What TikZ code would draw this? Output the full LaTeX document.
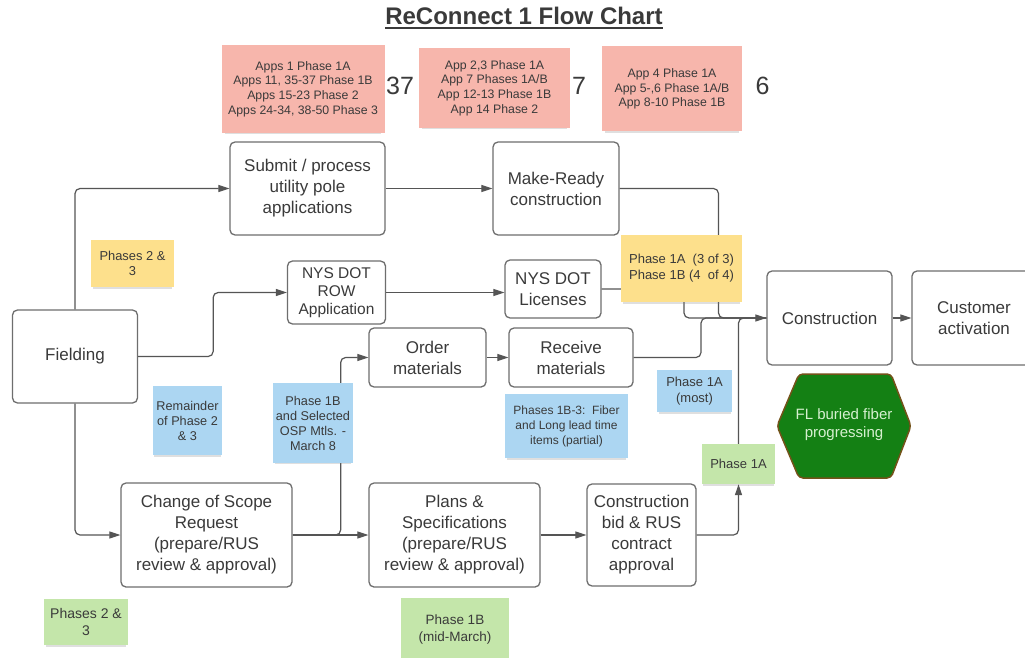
\documentclass[tikz,border=0pt]{standalone}
\usepackage{fontspec}
\setmainfont{Liberation Sans}
\usetikzlibrary{arrows.meta,shadows}

\definecolor{pinknote}{RGB}{247,182,172}
\definecolor{yellownote}{RGB}{253,224,140}
\definecolor{bluenote}{RGB}{172,214,242}
\definecolor{greennote}{RGB}{196,230,170}
\definecolor{hexgreen}{RGB}{20,128,20}
\definecolor{hexrim}{RGB}{115,82,25}
\definecolor{hextext}{RGB}{214,240,208}
\definecolor{boxline}{RGB}{110,110,110}
\definecolor{wire}{RGB}{85,85,85}
\definecolor{ink}{RGB}{58,58,58}

\tikzset{
  procbox/.style={draw=boxline,line width=1.3pt,rounded corners=5pt,fill=white,
    align=center,text=ink,inner sep=1pt,font={\fontsize{17}{21}\selectfont}},
  sticky/.style={inner sep=1pt,align=center,text=ink,
    drop shadow={shadow xshift=0pt,shadow yshift=-3pt,shadow scale=0.96,opacity=0.25}},
  flow/.style={draw=wire,line width=1.2pt,rounded corners=5pt},
  flowarrow/.style={-{Triangle[length=11pt,width=7pt]}}
}

\begin{document}
\begin{tikzpicture}[x=1pt,y=-1pt]
\clip (0,0) rectangle (1025,658);
\fill[white] (0,0) rectangle (1025,658);

% title
\node[inner sep=0,anchor=base,text=ink,font={\fontsize{24}{28}\selectfont\bfseries}] (title) at (524,25) {ReConnect 1 Flow Chart};
\draw[ink,line width=2pt] ([yshift=-3pt]title.base west) -- ([yshift=-3pt]title.base east);

% process boxes
\node[procbox,minimum width=155pt,minimum height=93pt] (submit) at (307.5,188.5) {Submit / process\\utility pole\\applications};
\node[procbox,minimum width=126pt,minimum height=93pt] (mkready) at (556,188.5) {Make-Ready\\construction};
\node[procbox,minimum width=98pt,minimum height=63pt,inner sep=0pt,font={\fontsize{15.5}{18}\selectfont}] (row) at (336.5,292.5) {NYS DOT\\ROW\\Application};
\node[procbox,minimum width=96pt,minimum height=58pt] (lic) at (553,289) {NYS DOT\\Licenses};
\node[procbox,minimum width=125pt,minimum height=93pt] (field) at (75,356.5) {Fielding};
\node[procbox,minimum width=117pt,minimum height=59pt] (order) at (427.5,357.5) {Order\\materials};
\node[procbox,minimum width=124pt,minimum height=59pt] (receive) at (571,357.5) {Receive\\materials};
\node[procbox,minimum width=125pt,minimum height=94pt] (constr) at (829.5,318) {Construction};
\node[procbox,minimum width=124pt,minimum height=94pt] (cust) at (974,318) {Customer\\activation};
\node[procbox,minimum width=171pt,minimum height=104pt] (scope) at (206.5,535) {Change of Scope\\Request\\(prepare/RUS\\review \& approval)};
\node[procbox,minimum width=171pt,minimum height=104pt] (plans) at (454.5,535) {Plans \&\\Specifications\\(prepare/RUS\\review \& approval)};
\node[procbox,minimum width=109pt,minimum height=102pt] (bid) at (641.5,535) {Construction\\bid \& RUS\\contract\\approval};

\coordinate (jmr) at (718.5,318);
\coordinate (jlic) at (684,318);
\coordinate (jrcv) at (701,318);

% connectors
\draw[flow,flowarrow] (field.north) |- (submit.west);
\draw[flow,flowarrow] (submit) -- (mkready);
\draw[flow] (lic.east) -| (jlic) -- (constr.west);
\draw[flow] (receive.east) -| (jrcv) -- (constr.west);
\draw[flow,flowarrow] (mkready.east) -| (jmr) -- (constr.west);
\draw[flow,flowarrow] (field.east) -- ++(75,0) |- (row.west);
\draw[flow,flowarrow] (row.east) -- (lic.west |- row.east);
\draw[flow,flowarrow] (field.south) |- (scope.west);
\draw[flow,flowarrow] (scope) -- (plans);
\draw[flow,flowarrow] (scope.east) -- ++(48,0) |- (order.west);
\draw[flow,flowarrow] (order) -- (receive);
\draw[flow,flowarrow] (plans) -- (bid);
\draw[flow,flowarrow] (constr) -- (cust);

% application notes
\node[sticky,fill=pinknote,minimum width=163pt,minimum height=88pt,font={\fontsize{12.3}{14.7}\selectfont}] (pkone) at (303,89) {Apps 1 Phase 1A\\Apps 11, 35-37 Phase 1B\\Apps 15-23 Phase 2\\Apps 24-34, 38-50 Phase 3};
\node[sticky,fill=pinknote,minimum width=151pt,minimum height=80pt,font={\fontsize{12.3}{14.7}\selectfont}] (pktwo) at (494.5,88) {App 2,3 Phase 1A\\App 7 Phases 1A/B\\App 12-13 Phase 1B\\App 14 Phase 2};
\node[sticky,fill=pinknote,minimum width=140pt,minimum height=85pt,font={\fontsize{12.3}{14.7}\selectfont}] (pkthree) at (672,89) {App 4 Phase 1A\\App 5-,6 Phase 1A/B\\App 8-10 Phase 1B};
\node[text=ink,font={\fontsize{25}{28}\selectfont}] (cntone) at (400,86) {37};
\node[text=ink,font={\fontsize{25}{28}\selectfont}] (cnttwo) at (579,86) {7};
\node[text=ink,font={\fontsize{25}{28}\selectfont}] (cntthree) at (762.5,86) {6};

% phase notes
\node[sticky,fill=yellownote,minimum width=83pt,minimum height=47pt,font={\fontsize{12.9}{15.5}\selectfont}] (ylwa) at (132.5,263.5) {Phases 2 \&\\3};
\node[sticky,fill=yellownote,minimum width=121pt,minimum height=67pt,font={\fontsize{13}{16}\selectfont}] (ylwb) at (681.5,268.5) {Phase 1A\ \ (3 of 3)\\Phase 1B (4\ \ of 4)};
\node[sticky,fill=bluenote,minimum width=69pt,minimum height=69pt,font={\fontsize{12.7}{15}\selectfont}] (blrem) at (187.5,420.5) {Remainder\\of Phase 2\\\& 3};
\node[sticky,fill=bluenote,minimum width=80pt,minimum height=80pt,font={\fontsize{12.7}{15}\selectfont}] (blosp) at (313,423) {Phase 1B\\and Selected\\OSP Mtls. -\\March 8};
\node[sticky,fill=bluenote,minimum width=123pt,minimum height=64pt,font={\fontsize{12}{15}\selectfont}] (blfib) at (566.5,426) {Phases 1B-3:\ \ Fiber\\and Long lead time\\items (partial)};
\node[sticky,fill=bluenote,minimum width=75pt,minimum height=42pt,font={\fontsize{13}{16}\selectfont}] (blmost) at (694.5,391) {Phase 1A\\(most)};
\node[sticky,fill=greennote,minimum width=73pt,minimum height=40pt,font={\fontsize{13}{16}\selectfont}] (grnone) at (738.5,464) {Phase 1A};
\node[sticky,fill=greennote,minimum width=84pt,minimum height=46pt,font={\fontsize{14}{17}\selectfont}] (grntwo) at (86,622) {Phases 2 \&\\3};
\node[sticky,fill=greennote,minimum width=108pt,minimum height=62pt,font={\fontsize{13.5}{17}\selectfont}] (grnthree) at (455,629) {Phase 1B\\(mid-March)};

\draw[flow,flowarrow] (bid.east) -| (grnone.south);
\draw[flow] (grnone.north) |- (constr.west);

% buried fiber hexagon
\draw[fill=hexgreen,draw=hexrim,line width=1.5pt,rounded corners=4pt]
  (777,426) -- (799,374) -- (891,374) -- (911,426) -- (891,478) -- (799,478) -- cycle;
\node[text=hextext,align=center,font={\fontsize{15}{18}\selectfont}] (fiber) at (844,425) {FL buried fiber\\progressing};

\end{tikzpicture}
\end{document}
